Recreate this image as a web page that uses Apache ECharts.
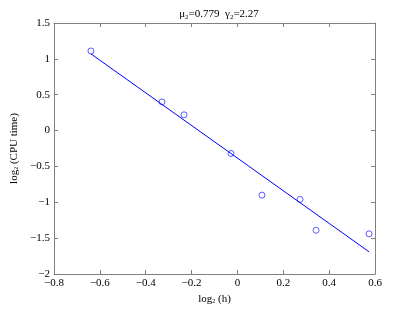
<!DOCTYPE html>
<html><head><meta charset="utf-8">
<script src="https://cdn.jsdelivr.net/npm/echarts@6/dist/echarts.min.js"></script>
<style>html,body{margin:0;padding:0;background:#fff}#c{width:415px;height:310px}</style>
</head><body><div id="c"></div>
<script>
const logH = [-0.639, -0.329, -0.233, -0.028, 0.107, 0.273, 0.343, 0.574];
const logCpu = [1.11, 0.40, 0.22, -0.32, -0.90, -0.96, -1.39, -1.44];
const fitX = [-0.639, 0.574];
const fitY = [1.07, -1.69];
const xTicks = [-0.8, -0.6, -0.4, -0.2, 0, 0.2, 0.4, 0.6];
const yTicks = [-2, -1.5, -1, -0.5, 0, 0.5, 1, 1.5];
const titleMu = '0.779';
const titleGamma = '2.27';

const font = 'Liberation Serif';
const fmt = v => (v < 0 ? '\u2212' + String(Math.abs(v)) : String(v));
const axisCommon = {
  axisLine: {show: true, onZero: false, lineStyle: {color: '#808080', width: 1}},
  axisTick: {show: true, inside: true, length: 4, lineStyle: {color: '#808080'}},
  splitLine: {show: false},
};
const richSub = {
  t: {fontFamily: font, fontSize: 11, color: '#000', fontWeight: 'normal'},
  s: {fontFamily: font, fontSize: 6, color: '#000', fontWeight: 'normal', verticalAlign: 'bottom', padding: [5, 0, 0, 0]}
};
const chart = echarts.init(document.getElementById('c'), null, {renderer: 'canvas'});
chart.setOption({
  animation: false,
  backgroundColor: '#fff',
  title: {
    text: '{t|\u03bc}{s|2}{t|=' + titleMu + '  \u03b3}{s|2}{t|=' + titleGamma + '}',
    left: 214, top: 3, textAlign: 'center',
    textStyle: {fontWeight: 'normal', rich: {
      t: {fontFamily: font, fontSize: 11, color: '#000', fontWeight: 'normal'},
      s: {fontFamily: font, fontSize: 7, color: '#000', fontWeight: 'normal', verticalAlign: 'bottom', padding: [6, 0, 0, 0]}
    }}
  },
  grid: {left: 54, right: 40, top: 23, bottom: 36, containLabel: false},
  xAxis: [{
    type: 'value', min: -0.8, max: 0.6, interval: 0.2, position: 'bottom',
    ...axisCommon,
    axisLabel: {fontFamily: font, fontSize: 11, color: '#000', margin: 4,
      formatter: v => fmt(Math.round(v * 10) / 10)},
    name: '{t|log}{s|2}{t| (h)}', nameLocation: 'middle', nameGap: 18,
    nameTextStyle: {rich: richSub}
  }, {
    type: 'value', min: -0.8, max: 0.6, interval: 0.2, position: 'top',
    ...axisCommon, axisLabel: {show: false}
  }],
  yAxis: [{
    type: 'value', min: -2, max: 1.5, interval: 0.5, position: 'left',
    ...axisCommon,
    axisLabel: {fontFamily: font, fontSize: 11, color: '#000', margin: 4,
      formatter: v => fmt(v)},
    name: '{t|log}{s|2}{t| (CPU time)}', nameLocation: 'middle', nameGap: 30, nameRotate: 90,
    nameTextStyle: {rich: richSub}
  }, {
    type: 'value', min: -2, max: 1.5, interval: 0.5, position: 'right',
    ...axisCommon, axisLabel: {show: false}
  }],
  series: [{
    type: 'scatter',
    data: logH.map((x, i) => [x, logCpu[i]]),
    symbol: 'circle', symbolSize: 6,
    itemStyle: {color: 'transparent', borderColor: '#3333ff', borderWidth: 1}
  }, {
    type: 'line',
    data: fitX.map((x, i) => [x, fitY[i]]),
    showSymbol: false,
    lineStyle: {color: '#0000ff', width: 1}
  }]
});
</script></body></html>
